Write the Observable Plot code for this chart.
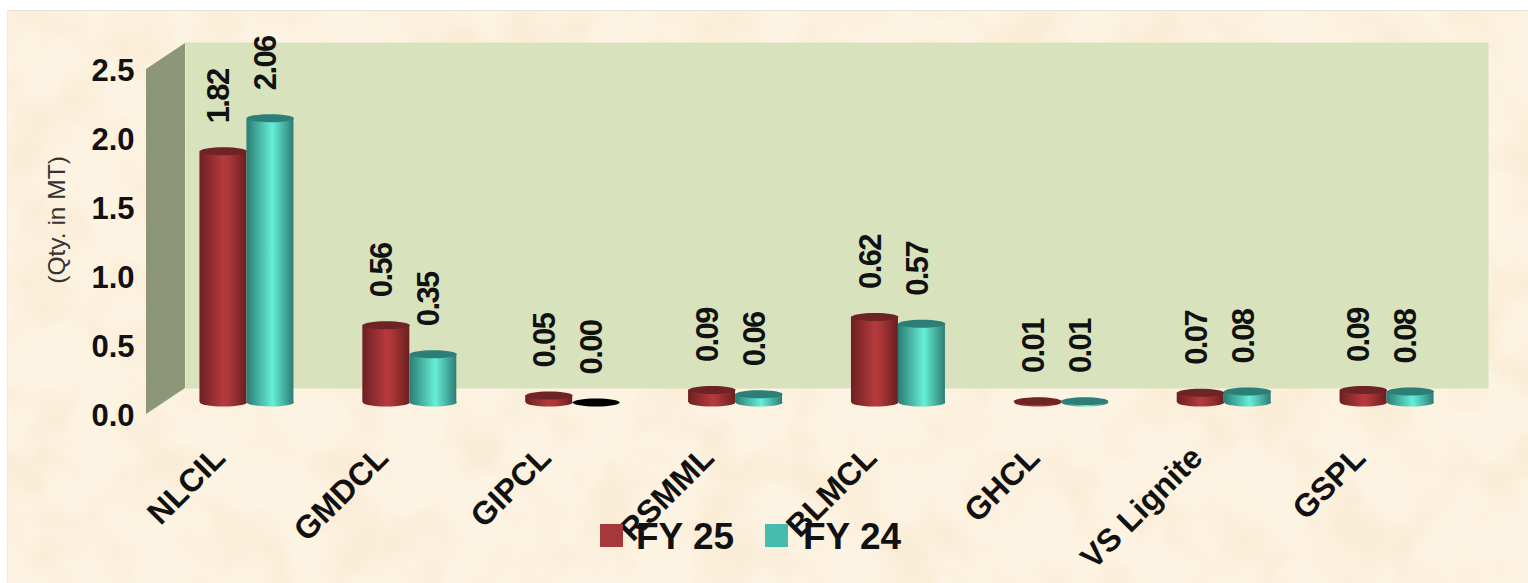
<!DOCTYPE html>
<html><head><meta charset="utf-8">
<script src="https://cdn.jsdelivr.net/npm/d3@7"></script>
<script src="https://cdn.jsdelivr.net/npm/@observablehq/plot@0.6"></script>
<style>
html,body{margin:0;padding:0;background:#fff;width:1528px;height:583px;overflow:hidden}
#paper{position:absolute;left:7px;top:10px;right:0;bottom:0;background-color:#fdf3e2;border-top:1px solid #e8e4da;border-left:1px solid #eee9df}
#paper svg{position:absolute;left:0;top:0;width:100%;height:100%}
#chart{position:absolute;left:0;top:0}
#legend{position:absolute;left:0;top:0;font:bold 37px "Liberation Sans",Arial,sans-serif;color:#111}
#legend span{position:absolute;top:516px;white-space:nowrap}
#legend i{position:absolute;top:524px;width:23px;height:23px}
.lab text{letter-spacing:-1.6px}
</style></head><body>
<div id="paper"><svg xmlns="http://www.w3.org/2000/svg"><filter id="tex" x="0" y="0" width="100%" height="100%" color-interpolation-filters="sRGB"><feTurbulence type="fractalNoise" baseFrequency="0.016" numOctaves="3" seed="7"/><feColorMatrix values="0 0 0 0 .91  0 0 0 0 .80  0 0 0 0 .60  3.2 0 0 0 -1.35"/></filter><rect width="100%" height="100%" filter="url(#tex)" opacity=".14"/></svg></div>
<div id="chart"></div>
<div id="legend"></div>
<script>
const categories = ["NLCIL","GMDCL","GIPCL","RSMML","BLMCL","GHCL","VS Lignite","GSPL"];
const fy25 = [1.82,0.56,0.05,0.09,0.62,0.01,0.07,0.09];
const fy24 = [2.06,0.35,0.00,0.06,0.57,0.01,0.08,0.08];
const yTicks = [0,0.5,1,1.5,2,2.5];
const yTitle = "(Qty. in MT)";
const seriesNames = ["FY 25","FY 24"];

const rows25 = categories.map((c,i)=>({c,v:fy25[i]}));
const rows24 = categories.map((c,i)=>({c,v:fy24[i]}));
const F = '"Liberation Sans",Arial,sans-serif';
const DX = 19, DY = -12, W = 47, P = 1-47/162.9;

const ellipse = {draw(ctx,size){
  const rx=Math.sqrt(size/Math.PI), ry=rx*0.17, k=0.5523;
  ctx.moveTo(-rx,0);
  ctx.bezierCurveTo(-rx,-ry*k,-rx*k,-ry,0,-ry);
  ctx.bezierCurveTo(rx*k,-ry,rx,-ry*k,rx,0);
  ctx.bezierCurveTo(rx,ry*k,rx*k,ry,0,ry);
  ctx.bezierCurveTo(-rx*k,ry,-rx,ry*k,-rx,0);
  ctx.closePath();
}};

function gradient(defs,id,stops){
  const g=defs.append("linearGradient").attr("id",id);
  stops.forEach(([o,c])=>g.append("stop").attr("offset",o).attr("stop-color",c));
}
const gradients = () => {
  const d=d3.create("svg:defs");
  gradient(d,"red",[[0,"#6d2022"],[.5,"#b43a3d"],[.62,"#ad3638"],[1,"#6a1f20"]]);
  gradient(d,"teal",[[0,"#2a7d72"],[.55,"#66efd8"],[1,"#2c7d74"]]);
  return d.node();
};
const sideWall = (index,{y},v,dim) => {
  const x0=dim.marginLeft, a=y(0), b=y(2.5);
  return d3.create("svg:path")
    .attr("d",`M${x0},${a}L${x0},${b}L${x0+39},${b-26}L${x0+39},${a-26}Z`)
    .attr("fill","#8d9679").node();
};
const series = (rows,off,grad,top) => {
  const live=rows.filter(d=>d.v>0), o=DX+off;
  return [
    Plot.dot(live,{x:"c",y:()=>0,r:W/2,symbol:ellipse,fill:`url(#${grad})`,stroke:"none",dx:o,dy:DY}),
    Plot.barY(live,{x:"c",y:"v",fill:`url(#${grad})`,dx:o,dy:DY}),
    Plot.dot(rows,{x:"c",y:"v",r:W/2,symbol:ellipse,fill:d=>d.v>0?top:"#000",stroke:"none",dx:o,dy:DY}),
    Plot.text(rows,{x:"c",y:"v",text:d=>d3.format(".2f")(d.v),rotate:-90,textAnchor:"start",lineAnchor:"middle",
      fontSize:31,fontWeight:"bold",fontFamily:F,fill:"#111",dx:o-4,dy:DY-28,className:"lab"})
  ];
};

const chart = Plot.plot({
  width:1528,height:583,
  marginLeft:146,marginRight:79,marginTop:69,marginBottom:169,
  style:{background:"transparent",overflow:"visible"},
  x:{domain:categories,paddingInner:P,paddingOuter:P/2,align:0.5,round:false,label:null},
  y:{domain:[0,2.5],label:null},
  marks:[
    gradients,
    Plot.frame({fill:"#d8e3bd",stroke:"none",dx:39,dy:-26,insetTop:-1}),
    sideWall,
    ...series(rows25,-W/2,"red","#6e2324"),
    ...series(rows24,W/2,"teal","#2b7f76"),
    Plot.axisY({ticks:yTicks,tickFormat:d3.format(".1f"),tickSize:0,tickPadding:12,dy:2,label:null,fontSize:31,fontWeight:"bold",fontFamily:F,fill:"#111"}),
    Plot.axisX({tickRotate:-45,tickSize:0,tickPadding:30,dx:-8,dy:8,label:null,fontSize:32,fontWeight:"bold",fontFamily:F,fill:"#111"}),
    Plot.text([yTitle],{frameAnchor:"left",y:()=>1.41,rotate:-90,dx:-89,fontSize:24.5,fontFamily:F,fill:"#333",textAnchor:"middle"})
  ]
});
document.getElementById("chart").append(chart);

const lg=d3.select("#legend");
[["#a5383b",600,636],["#44bcae",765,803]].forEach(([c,a,b],i)=>{
  lg.append("i").style("left",a+"px").style("background",c);
  lg.append("span").style("left",b+"px").text(seriesNames[i]);
});
</script>
</body></html>
